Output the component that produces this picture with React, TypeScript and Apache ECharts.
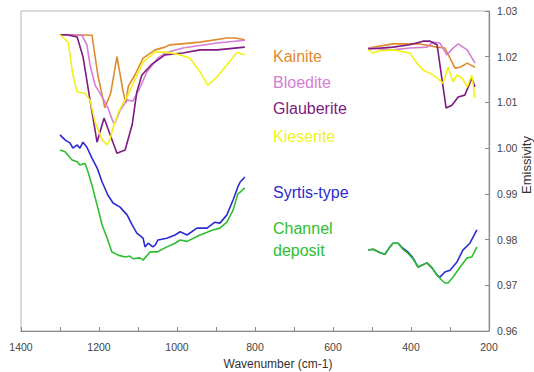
import React, { useEffect, useRef } from "react";
import * as echarts from "echarts";

// [wavenumber (cm-1), emissivity]
const kainiteHigh = [[1300,1.0248],[1260,1.0248],[1218,1.0247],[1203,1.016],[1185,1.0088],[1170,1.012],[1154,1.020],[1138,1.0123],[1131,1.0099],[1125,1.0135],[1108,1.016],[1087,1.0197],[1056,1.0215],[1031,1.0221],[1018,1.0226],[941,1.0232],[872,1.0241],[851,1.0241],[826,1.0237]];
const kainiteLow = [[510,1.0219],[446,1.0228],[377,1.0228],[333,1.0221],[313,1.0219],[300,1.0197],[287,1.0175],[274,1.0177],[256,1.0186],[236,1.0177]];

const bloediteHigh = [[1300,1.0248],[1244,1.0247],[1231,1.0226],[1223,1.0182],[1210,1.0138],[1192,1.0112],[1177,1.0088],[1164,1.0057],[1159,1.0055],[1146,1.0083],[1128,1.0105],[1113,1.0103],[1095,1.0132],[1077,1.0167],[1049,1.0197],[1031,1.0208],[985,1.0219],[897,1.023],[826,1.0236]];
const bloediteLow = [[510,1.0219],[446,1.0215],[403,1.0219],[359,1.0221],[344,1.0232],[326,1.023],[308,1.0204],[292,1.0219],[279,1.0228],[256,1.0215],[236,1.0186]];

const glauberiteHigh = [[1300,1.0248],[1282,1.0248],[1256,1.0243],[1241,1.020],[1223,1.0105],[1205,1.0013],[1187,1.0066],[1154,0.9989],[1133,0.9996],[1115,1.0051],[1103,1.0123],[1090,1.016],[1064,1.0184],[1031,1.0204],[985,1.0208],[941,1.0215],[897,1.0215],[826,1.0221]];
const glauberiteLow = [[510,1.0217],[446,1.0221],[403,1.0226],[369,1.0234],[351,1.0234],[333,1.0226],[321,1.0153],[310,1.0088],[295,1.0094],[279,1.0112],[262,1.0116],[244,1.0153],[236,1.0134]];

const kieseriteHigh = [[1300,1.0248],[1279,1.0232],[1267,1.016],[1256,1.0123],[1236,1.012],[1223,1.0105],[1210,1.0057],[1192,1.0018],[1179,1.0007],[1172,1.0018],[1164,1.0044],[1151,1.0077],[1138,1.0099],[1126,1.0116],[1087,1.0188],[1056,1.021],[1026,1.021],[992,1.0204],[967,1.0197],[941,1.0167],[921,1.0138],[897,1.0156],[872,1.0182],[846,1.021],[826,1.0204]];
const kieseriteLow = [[510,1.0215],[497,1.0208],[480,1.0213],[446,1.0215],[403,1.0208],[385,1.0186],[369,1.0171],[351,1.0164],[333,1.0153],[318,1.0142],[305,1.0177],[292,1.0145],[282,1.016],[269,1.0153],[256,1.0134],[244,1.016],[236,1.011]];

const syrtisHigh = [[1300,1.0029],[1287,1.0018],[1274,1.0011],[1267,1.0000],[1256,1.0007],[1249,1.0000],[1241,1.0013],[1231,1.0002],[1218,0.9978],[1205,0.9957],[1192,0.9926],[1177,0.9897],[1164,0.988],[1146,0.9871],[1128,0.9854],[1115,0.9832],[1103,0.9814],[1087,0.9803],[1082,0.9784],[1074,0.9792],[1062,0.9784],[1056,0.9788],[1049,0.9799],[1026,0.9803],[1005,0.981],[992,0.9817],[974,0.981],[949,0.9825],[923,0.9825],[903,0.9838],[890,0.9836],[872,0.9854],[856,0.9887],[844,0.9915],[838,0.9926],[826,0.9937]];
const syrtisLow = [[510,0.9777],[497,0.9779],[479,0.9771],[467,0.9768],[454,0.9784],[446,0.9792],[433,0.9792],[421,0.9781],[408,0.9773],[395,0.976],[382,0.974],[372,0.9744],[359,0.9749],[346,0.9738],[333,0.9722],[326,0.9718],[313,0.9729],[300,0.9733],[282,0.9751],[267,0.9777],[249,0.9792],[231,0.9821]];

const channelHigh = [[1300,0.9996],[1287,0.9992],[1269,0.9974],[1256,0.997],[1249,0.9963],[1236,0.9967],[1228,0.9948],[1218,0.9919],[1205,0.9876],[1192,0.9832],[1179,0.9803],[1167,0.9773],[1151,0.9766],[1133,0.9762],[1121,0.9764],[1113,0.9758],[1095,0.976],[1087,0.9755],[1082,0.976],[1069,0.9773],[1051,0.9773],[1026,0.9784],[1005,0.9792],[992,0.9799],[974,0.9796],[941,0.981],[908,0.9821],[890,0.9825],[872,0.9838],[856,0.9865],[844,0.99],[838,0.9904],[826,0.9913]];
const channelLow = [[510,0.9777],[497,0.9779],[479,0.9771],[467,0.9768],[454,0.9784],[446,0.9792],[433,0.9792],[421,0.9779],[408,0.977],[395,0.9758],[382,0.974],[372,0.9744],[359,0.9749],[346,0.9738],[333,0.9722],[321,0.9711],[313,0.9705],[305,0.9705],[292,0.9718],[274,0.974],[256,0.976],[244,0.9762],[231,0.9784]];

const minerals = [
  { name: "Kainite", color: "#DF8A2E", high: kainiteHigh, low: kainiteLow },
  { name: "Bloedite", color: "#D57ED6", high: bloediteHigh, low: bloediteLow },
  { name: "Glauberite", color: "#7E1A80", high: glauberiteHigh, low: glauberiteLow },
  { name: "Kieserite", color: "#F2F21A", high: kieseriteHigh, low: kieseriteLow },
  { name: "Syrtis-type", color: "#2B2BD0", high: syrtisHigh, low: syrtisLow },
  { name: "Channel deposit", color: "#2EBE2E", high: channelHigh, low: channelLow },
];

const labelTexts = [
  { text: "Kainite", color: "#DF8A2E", y: 57 },
  { text: "Bloedite", color: "#D57ED6", y: 83 },
  { text: "Glauberite", color: "#7E1A80", y: 109 },
  { text: "Kieserite", color: "#F2F21A", y: 137 },
  { text: "Syrtis-type", color: "#2B2BD0", y: 193 },
  { text: "Channel", color: "#2EBE2E", y: 229 },
  { text: "deposit", color: "#2EBE2E", y: 251 },
];

export default function App() {
  const ref = useRef<HTMLDivElement>(null);
  useEffect(() => {
    document.body.style.margin = "0";
    const chart = echarts.init(ref.current!, undefined, { renderer: "svg" });
    const font = "Liberation Sans, Arial, sans-serif";
    const series: any[] = [];
    minerals.forEach((m) => {
      [m.high, m.low].forEach((d) => {
        series.push({
          type: "line",
          name: m.name,
          data: d,
          showSymbol: false,
          symbol: "none",
          lineStyle: { color: m.color, width: 1.6 },
          itemStyle: { color: m.color },
        });
      });
    });
    chart.setOption({
      animation: false,
      backgroundColor: "#fff",
      grid: { left: 21, right: 45, top: 11, bottom: 41, show: true, borderColor: "#b5b5b5", borderWidth: 1 },
      xAxis: {
        type: "value",
        inverse: true,
        min: 200,
        max: 1400,
        interval: 200,
        axisLine: { show: true, lineStyle: { color: "#8a8a8a", width: 1.2 } },
        axisTick: { show: true, inside: true, length: 4, lineStyle: { color: "#8a8a8a" } },
        minorTick: { show: true, splitNumber: 2, length: 4, lineStyle: { color: "#8a8a8a" } },
        splitLine: { show: false },
        axisLabel: { fontFamily: font, fontSize: 10.5, color: "#444", margin: 10, formatter: (v: number) => String(v) },
      },
      yAxis: {
        type: "value",
        position: "right",
        min: 0.96,
        max: 1.03,
        interval: 0.01,
        axisLine: { show: true, lineStyle: { color: "#8a8a8a", width: 1.2 } },
        axisTick: { show: true, inside: true, length: 4, lineStyle: { color: "#8a8a8a" } },
        splitLine: { show: false },
        axisLabel: {
          fontFamily: font,
          fontSize: 10.5,
          color: "#444",
          margin: 8,
          formatter: (v: number) => v.toFixed(2),
        },
      },
      graphic: [
        ...labelTexts.map((t) => ({
          type: "text",
          left: 273,
          top: t.y - 9,
          style: { text: t.text, fill: t.color, font: `16px ${font}` },
        })),
        {
          type: "text",
          x: 278,
          y: 364,
          style: { text: "Wavenumber (cm-1)", fill: "#333", font: `12px ${font}`, align: "center", verticalAlign: "middle" },
        },
        {
          type: "text",
          x: 526,
          y: 165,
          rotation: Math.PI / 2,
          style: { text: "Emissivity", fill: "#333", font: `13px ${font}`, align: "center", verticalAlign: "middle" },
        },
      ],
      series,
    });
    return () => chart.dispose();
  }, []);
  return <div ref={ref} style={{ width: 534, height: 372, position: "absolute", left: 0, top: 0 }} />;
}
